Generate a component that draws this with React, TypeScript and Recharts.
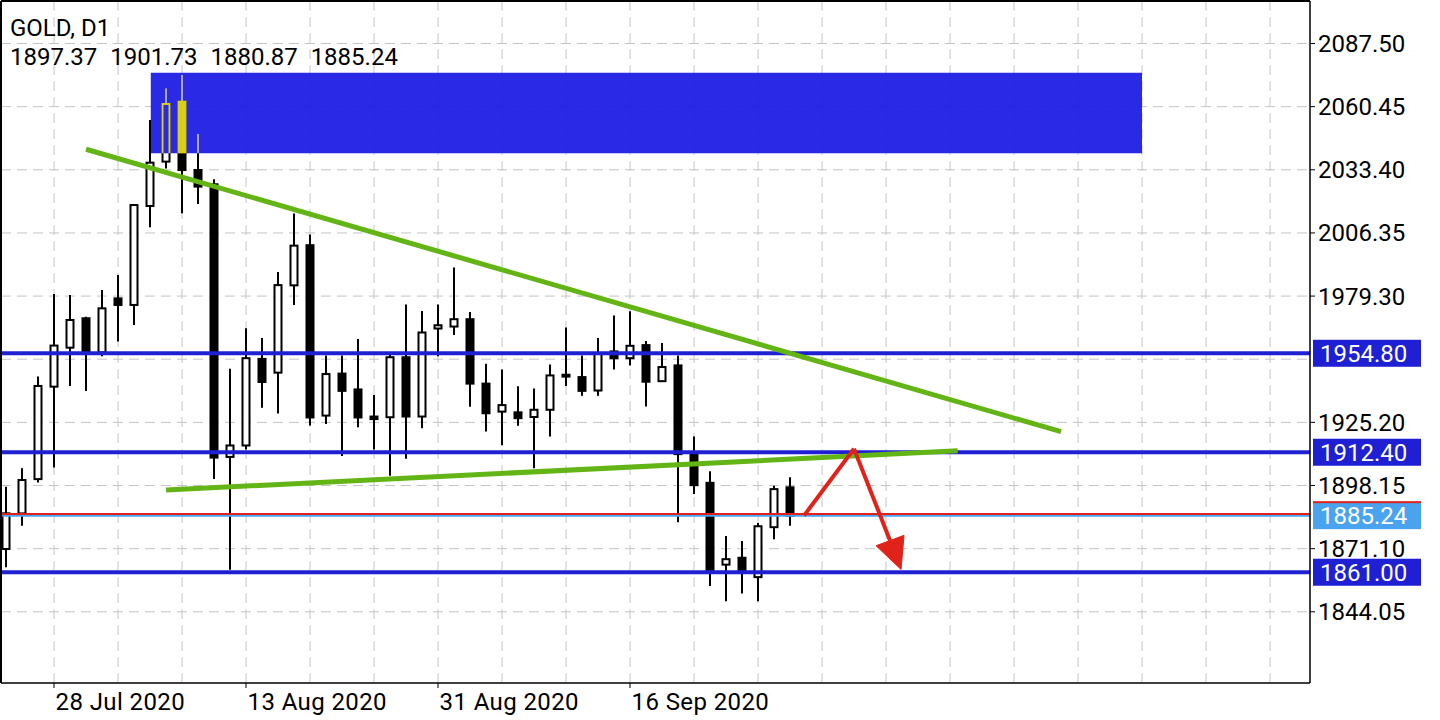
import React from 'react';
import {
  ComposedChart,
  Bar,
  XAxis,
  YAxis,
  CartesianGrid,
  ReferenceLine,
  ReferenceArea,
  ReferenceDot,
} from 'recharts';

// GOLD D1, 23 Jul 2020 .. 30 Sep 2020, one bar per trading day (index = bar number)
const opens = [
  1870.96, 1886.2, 1900.9, 1940.5, 1957.2, 1969.8, 1955.2, 1978.3, 1975.5, 2017.9,
  2036.9, 2062.6, 2033.3, 2027.2, 1910.4, 1915.3, 1952.4, 1946.5, 1983.9, 2001.1,
  1928.1, 1946.1, 1939.3, 1927.7, 1927.4, 1953.1, 1927.7, 1965.4, 1966.25, 1969.4,
  1941.8, 1929.8, 1929.5, 1927.5, 1930.6, 1945.6, 1944.6, 1938.85, 1955.6, 1952.7,
  1958.3, 1942.85, 1949.6, 1911.6, 1899.3, 1864.25, 1867.2, 1858.9, 1880.3, 1897.37,
];
const highs = [
  1897.65, 1905.5, 1944.8, 1980.2, 1979.8, 1970.5, 1981.9, 1988.3, 2018.6, 2054.7,
  2068.3, 2074.0, 2048.7, 2029.3, 1948.2, 1965.5, 1961.3, 1989.6, 2014.7, 2005.7,
  1953.8, 1953.8, 1960.9, 1936.9, 1954.8, 1975.7, 1972.9, 1975.7, 1991.5, 1972.5,
  1950.3, 1947.9, 1940.7, 1939.7, 1950.0, 1965.8, 1953.8, 1961.3, 1971.0, 1972.8,
  1960.1, 1959.2, 1953.8, 1919.1, 1904.3, 1876.5, 1874.4, 1882.1, 1898.1, 1901.73,
];
const lows = [
  1863.1, 1880.95, 1899.4, 1905.9, 1940.8, 1938.6, 1953.5, 1959.8, 1966.9, 2008.75,
  2034.0, 2014.75, 2018.7, 1900.9, 1862.1, 1913.6, 1931.5, 1929.0, 1975.5, 1923.9,
  1924.5, 1910.8, 1923.1, 1913.6, 1902.3, 1909.6, 1922.7, 1953.5, 1962.6, 1931.9,
  1921.3, 1915.4, 1923.8, 1905.5, 1919.2, 1940.8, 1936.6, 1936.6, 1947.8, 1949.6,
  1932.0, 1942.5, 1882.4, 1894.5, 1855.1, 1848.6, 1851.9, 1848.6, 1875.1, 1880.87,
];
const closes = [
  1886.23, 1900.5, 1940.8, 1958.1, 1969.05, 1955.2, 1974.05, 1975.5, 2018.3, 2036.45,
  2061.6, 2033.3, 2026.2, 1910.1, 1915.3, 1952.7, 1942.5, 1984.0, 2000.9, 1927.3,
  1945.9, 1938.7, 1927.3, 1926.6, 1953.1, 1927.7, 1963.7, 1966.8, 1969.4, 1941.8,
  1929.1, 1932.6, 1927.0, 1930.6, 1945.3, 1944.8, 1938.7, 1954.5, 1952.7, 1958.0,
  1942.6, 1948.9, 1911.6, 1898.3, 1861.7, 1866.6, 1861.0, 1880.7, 1896.6, 1885.24,
];

const dateTicks = [3, 15, 27, 39];
const dateLabels = ['28 Jul 2020', '13 Aug 2020', '31 Aug 2020', '16 Sep 2020'];
const gridBars = [3, 7, 11, 15, 19, 23, 27, 31, 35, 39, 43, 47, 51, 55, 59, 63, 67, 71, 75, 79];
const gridPrices = [1844.05, 1871.1, 1898.15, 1925.2, 1952.25, 1979.3, 2006.35, 2033.4, 2060.45, 2087.5];
const priceTicks = [1844.05, 1871.1, 1898.15, 1925.2, 1979.3, 2006.35, 2033.4, 2060.45, 2087.5];

const levels = [1954.8, 1912.4, 1861.0];
const lastPrice = 1885.24;
const redLevel = 1885.9;

const zoneBars = [9.05, 71];
const zonePrices = [2040.46, 2075.0];

const upperTrend = [
  { x: 5.0, y: 2042.2 },
  { x: 65.94, y: 1921.2 },
];
const lowerTrend = [
  { x: 10.0, y: 1896.2 },
  { x: 59.48, y: 1913.0 },
];
const arrowPath = [
  { x: 49.875, y: 1885.24 },
  { x: 53.0, y: 1913.9 },
  { x: 55.25, y: 1874.6 },
];
const arrowTip = { x: 55.94, y: 1862.2 };

const header = ['1897.37', '1901.73', '1880.87', '1885.24'];

const X_DOMAIN = [-0.3125, 81.5];
const Y_DOMAIN = [1813.55, 2105.71];

const BLUE = '#1f1fd4';
const ZONE = '#1818e4';
const ZONE_SEEN = '#2a2ae6';
const GREEN = '#63b516';
const RED = '#e0231a';
const BID = '#4aa3ef';
const YELLOW = '#d8ce1e';
const FONT = 'Roboto, sans-serif';

const data = opens.map((o, i) => ({
  i,
  open: o,
  high: highs[i],
  low: lows[i],
  close: closes[i],
  range: [lows[i], highs[i]],
}));

function Candle(props: any) {
  const { x, y, width, height, payload } = props;
  if (!payload || height == null) return null;
  const { i, open, high, low, close } = payload;
  const cx = Math.round(x + width / 2);
  const k = height / (high - low);
  const py = (v: number) => y + (high - v) * k;
  const bull = close >= open;
  const top = py(Math.max(open, close));
  const bh = Math.max(py(Math.min(open, close)) - top, 1);

  const draw = (wick: string, fill: string, stroke: string) => (
    <g>
      <line x1={cx} x2={cx} y1={y} y2={y + height} stroke={wick} strokeWidth={2} />
      <rect x={cx - 3.5} y={top} width={7} height={bh} fill={fill} stroke={stroke} strokeWidth={2} />
    </g>
  );

  const normal = draw('#000', bull ? '#fff' : '#000', '#000');
  if (i < zoneBars[0]) return normal;

  // inside the zone MT4 shows the candle in inverted colours
  const zTop = py(zonePrices[1]);
  const zBot = py(zonePrices[0]);
  const id = `zone-clip-${i}`;
  return (
    <g>
      {normal}
      <clipPath id={id}>
        <rect x={cx - 8} y={zTop} width={16} height={Math.max(zBot - zTop, 0)} />
      </clipPath>
      <g clipPath={`url(#${id})`}>{draw('#a9a9b4', bull ? ZONE_SEEN : YELLOW, YELLOW)}</g>
    </g>
  );
}

function PriceTick(props: any) {
  const { x, y, payload } = props;
  return (
    <text x={x} y={y + 8.5} fontSize={24} fontFamily={FONT} fill="#000" textAnchor="start">
      {Number(payload.value).toFixed(2)}
    </text>
  );
}

function DateTick(props: any) {
  const { x, y, payload } = props;
  const idx = dateTicks.indexOf(payload.value);
  return (
    <text x={x + 1.5} y={y + 20} fontSize={24} fontFamily={FONT} fill="#000" textAnchor="start" letterSpacing={0.4}>
      {dateLabels[idx]}
    </text>
  );
}

function LevelLabel(props: any) {
  const { viewBox, text, fill, topLine } = props;
  if (!viewBox) return null;
  const left = viewBox.x + viewBox.width + 3;
  const cy = viewBox.y;
  return (
    <g>
      <rect x={left} y={cy - 13.5} width={108} height={27} fill={fill} />
      {topLine && <rect x={left} y={cy - 14.5} width={108} height={2} fill={topLine} />}
      <text x={left + 7} y={cy + 8.5} fontSize={24} fontFamily={FONT} fill="#fff">
        {text}
      </text>
    </g>
  );
}

function ArrowHead(props: any) {
  const { cx, cy } = props;
  return (
    <polygon
      points={`${cx},${cy} ${cx - 25},${cy - 23.7} ${cx + 3},${cy - 34.1}`}
      fill={RED}
      stroke={RED}
      strokeWidth={1}
    />
  );
}

export default function App() {
  return (
    <div style={{ position: 'absolute', left: 0, top: 0, width: 1440, height: 720, background: '#fff', fontFamily: FONT }}>
      <ComposedChart width={1440} height={720} data={data} margin={{ top: 1, right: 0, bottom: 0, left: 1 }}>
        <CartesianGrid
          stroke="#c4c4c4"
          strokeDasharray="10 6"
          horizontalValues={gridPrices}
          verticalValues={gridBars}
        />
        <XAxis
          dataKey="i"
          type="number"
          domain={X_DOMAIN}
          allowDataOverflow
          ticks={dateTicks}
          interval={0}
          height={37}
          tickSize={5}
          tickMargin={2}
          axisLine={{ stroke: '#000', strokeWidth: 1.5 }}
          tickLine={{ stroke: '#000' }}
          tick={<DateTick />}
        />
        <YAxis
          orientation="right"
          type="number"
          domain={Y_DOMAIN}
          allowDataOverflow
          ticks={priceTicks}
          interval={0}
          width={130}
          tickSize={5}
          tickMargin={3}
          axisLine={{ stroke: '#000', strokeWidth: 1.5 }}
          tickLine={{ stroke: '#000' }}
          tick={<PriceTick />}
        />
        <ReferenceArea
          x1={zoneBars[0]}
          x2={zoneBars[1]}
          y1={zonePrices[0]}
          y2={zonePrices[1]}
          fill={ZONE}
          fillOpacity={0.92}
          stroke="none"
          zIndex={50}
        />
        <Bar dataKey="range" barSize={9} shape={<Candle />} isAnimationActive={false} />

        <ReferenceLine y={lastPrice} stroke={BID} strokeWidth={2} label={<LevelLabel text="1885.24" fill={BID} topLine={RED} />} />
        <ReferenceLine y={redLevel} stroke={RED} strokeWidth={2} />
        {levels.map((v) => (
          <ReferenceLine
            key={v}
            y={v}
            stroke={BLUE}
            strokeWidth={4}
            label={<LevelLabel text={v.toFixed(2)} fill={BLUE} />}
          />
        ))}

        <ReferenceLine segment={upperTrend} stroke={GREEN} strokeWidth={5} ifOverflow="visible" />
        <ReferenceLine segment={lowerTrend} stroke={GREEN} strokeWidth={5} ifOverflow="visible" />

        <ReferenceLine segment={[arrowPath[0], arrowPath[1]]} stroke={RED} strokeWidth={4} ifOverflow="visible" />
        <ReferenceLine segment={[arrowPath[1], arrowPath[2]]} stroke={RED} strokeWidth={4} ifOverflow="visible" />
        <ReferenceDot x={arrowTip.x} y={arrowTip.y} r={1} shape={<ArrowHead />} ifOverflow="visible" />

        <ReferenceLine y={Y_DOMAIN[1]} stroke="#000" strokeWidth={2} />
        <ReferenceLine x={X_DOMAIN[0]} stroke="#000" strokeWidth={2} />
      </ComposedChart>

      <div style={{ position: 'absolute', left: 10, top: 14, fontSize: 24, lineHeight: '28px', color: '#000' }}>GOLD, D1</div>
      <div style={{ position: 'absolute', left: 10, top: 43, fontSize: 24, lineHeight: '28px', color: '#000', wordSpacing: 7 }}>
        {header.join(' ')}
      </div>
    </div>
  );
}
